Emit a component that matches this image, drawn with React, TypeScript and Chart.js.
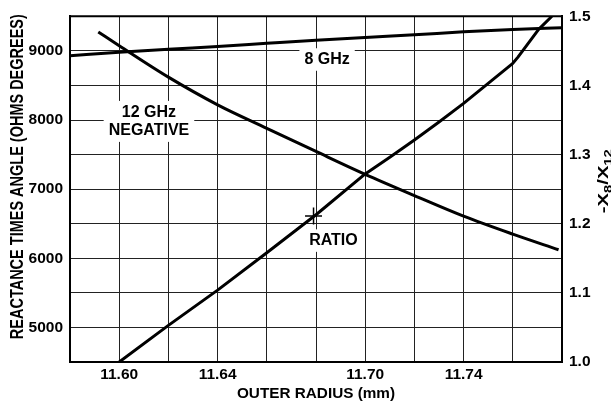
import { useEffect, useRef } from 'react';
import { Chart, registerables } from 'chart.js';

Chart.register(...registerables);

const FONT = "'Liberation Sans', Arial, Helvetica, sans-serif";

// X axis (outer radius, mm)
const radiusMin = 11.58;
const radiusMax = 11.78;
const radiusStep = 0.02;
const radiusLabeled = ['11.60', '11.64', '11.70', '11.74'];

// Left axis (reactance times angle)
const leftMin = 4500;
const leftMax = 9500;
const leftStep = 500;

// Right axis (ratio)
const rightMin = 1.0;
const rightMax = 1.5;
const rightStep = 0.05;

// 8 GHz curve
const ghz8Radius = [11.58, 11.6, 11.62, 11.64, 11.66, 11.68, 11.7, 11.72, 11.74, 11.76, 11.78];
const ghz8Values = [8930, 8980, 9025, 9062, 9109, 9155, 9195, 9232, 9275, 9308, 9335];

// 12 GHz negative curve
const ghz12Radius = [11.5915, 11.6, 11.62, 11.64, 11.66, 11.68, 11.7, 11.72, 11.74, 11.76, 11.7786];
const ghz12Values = [9273, 9075, 8620, 8220, 7880, 7545, 7215, 6908, 6610, 6350, 6124];

// Ratio curve (right axis)
const ratioRadius = [11.6, 11.62, 11.64, 11.66, 11.68, 11.7, 11.71, 11.72, 11.73, 11.74, 11.75, 11.76, 11.7621, 11.7705, 11.7759];
const ratioValues = [1.0, 1.053, 1.104, 1.158, 1.213, 1.272, 1.296, 1.321, 1.347, 1.374, 1.403, 1.432, 1.441, 1.481, 1.5];

// Cross marker on ratio curve
const markerRadius = [11.679];
const markerRatio = [1.211];

// In-plot labels
const labelLines = [['8 GHz'], ['12 GHz', 'NEGATIVE'], ['RATIO']];
const labelRadius = [11.6845, 11.6121, 11.6871];
const labelLevel = [8875, 7980, 6256];

const xTitle = 'OUTER RADIUS (mm)';
const leftTitle = 'REACTANCE TIMES ANGLE (OHMS DEGREES)';

const overlay = {
  id: 'overlay',
  beforeDatasetsDraw(chart: any) {
    const { ctx, chartArea: a, scales } = chart;
    ctx.save();
    ctx.strokeStyle = '#000';
    ctx.lineWidth = 2;
    ctx.beginPath();
    ctx.moveTo(a.left, a.top);
    ctx.lineTo(a.right, a.top);
    ctx.stroke();

    ctx.font = `bold 16px ${FONT}`;
    ctx.textAlign = 'center';
    ctx.textBaseline = 'middle';
    labelLines.forEach((lines, i) => {
      const cx = scales.x.getPixelForValue(labelRadius[i]);
      const cy = scales.y.getPixelForValue(labelLevel[i]);
      const w = Math.max(...lines.map((l) => ctx.measureText(l).width)) + 10;
      const lh = 18.5;
      const h = lines.length * lh + 4;
      ctx.fillStyle = '#fff';
      ctx.fillRect(cx - w / 2, cy - h / 2, w, h);
      ctx.fillStyle = '#000';
      lines.forEach((l, j) => ctx.fillText(l, cx, cy + (j - (lines.length - 1) / 2) * lh));
    });
    ctx.restore();
  },
  afterDraw(chart: any) {
    const { ctx, chartArea: a } = chart;
    const midY = (a.top + a.bottom) / 2;
    ctx.save();
    ctx.fillStyle = '#000';

    // X title
    ctx.font = `bold 15.3px ${FONT}`;
    ctx.textAlign = 'center';
    ctx.textBaseline = 'middle';
    ctx.fillText(xTitle, (a.left + a.right) / 2, a.bottom + 31.5);

    // Left title (tall, condensed)
    ctx.save();
    ctx.translate(a.left - 53.3, midY - 12.5);
    ctx.rotate(-Math.PI / 2);
    const lfs = 18.5;
    ctx.font = `bold ${lfs}px ${FONT}`;
    const lw = ctx.measureText(leftTitle).width;
    ctx.scale(325 / lw, 1);
    ctx.textAlign = 'center';
    ctx.textBaseline = 'alphabetic';
    ctx.fillText(leftTitle, 0, 0.358 * lfs);
    ctx.restore();

    // Right title with subscripts
    ctx.save();
    ctx.translate(a.right + 41, midY - 8);
    ctx.rotate(-Math.PI / 2);
    const mfs = 15;
    const sfs = 11;
    const parts: [string, number, number][] = [
      ['-X', mfs, 0],
      ['8', sfs, 3.5],
      ['/X', mfs, 0],
      ['12', sfs, 3.5],
    ];
    let total = 0;
    const widths = parts.map(([t, fs]) => {
      ctx.font = `bold ${fs}px ${FONT}`;
      const w = ctx.measureText(t).width;
      total += w;
      return w;
    });
    ctx.scale(64 / total, 1);
    ctx.textAlign = 'left';
    ctx.textBaseline = 'alphabetic';
    let px = -total / 2;
    parts.forEach(([t, fs, dy], i) => {
      ctx.font = `bold ${fs}px ${FONT}`;
      ctx.fillText(t, px, 0.358 * mfs + dy);
      px += widths[i];
    });
    ctx.restore();

    ctx.restore();
  },
};

const tickFont = { family: FONT, size: 15.5, weight: 'bold' as const };

export default function App() {
  const ref = useRef<HTMLCanvasElement | null>(null);

  useEffect(() => {
    if (!ref.current) return;
    const toPts = (xs: number[], ys: number[]) => xs.map((x, i) => ({ x, y: ys[i] }));
    const chart = new Chart(ref.current, {
      type: 'line',
      data: {
        datasets: [
          {
            label: '8 GHz',
            data: toPts(ghz8Radius, ghz8Values),
            yAxisID: 'y',
            borderColor: '#000',
            borderWidth: 3,
            pointRadius: 0,
            cubicInterpolationMode: 'monotone',
          },
          {
            label: '12 GHz NEGATIVE',
            data: toPts(ghz12Radius, ghz12Values),
            yAxisID: 'y',
            borderColor: '#000',
            borderWidth: 3,
            pointRadius: 0,
            cubicInterpolationMode: 'monotone',
          },
          {
            label: 'RATIO',
            data: toPts(ratioRadius, ratioValues),
            yAxisID: 'y1',
            borderColor: '#000',
            borderWidth: 3,
            pointRadius: 0,
            tension: 0,
            borderJoinStyle: 'round',
          },
          {
            label: 'marker',
            data: toPts(markerRadius, markerRatio),
            yAxisID: 'y1',
            showLine: false,
            borderColor: '#000',
            borderWidth: 1.5,
            pointStyle: 'cross',
            pointRadius: 8.5,
          },
        ],
      },
      options: {
        animation: false,
        responsive: false,
        layout: { padding: { top: 14, left: 0, right: 0, bottom: 0 } },
        plugins: {
          legend: { display: false },
          tooltip: { enabled: false },
          title: { display: false },
        },
        scales: {
          x: {
            type: 'linear',
            min: radiusMin,
            max: radiusMax,
            afterFit: (s: any) => {
              s.height = 45;
            },
            ticks: {
              stepSize: radiusStep,
              autoSkip: false,
              maxRotation: 0,
              padding: 3,
              color: '#000',
              font: tickFont,
              callback: (v: any) => {
                const s = Number(v).toFixed(2);
                return radiusLabeled.includes(s) ? s : '';
              },
            },
            grid: { color: '#222', lineWidth: 1, drawTicks: false },
            border: { color: '#000', width: 2 },
          },
          y: {
            position: 'left',
            min: leftMin,
            max: leftMax,
            afterFit: (s: any) => {
              s.width = 70;
            },
            ticks: {
              stepSize: leftStep,
              autoSkip: false,
              padding: 7,
              color: '#000',
              font: tickFont,
              callback: (v: any) => (Math.round(Number(v)) % 1000 === 0 ? String(Math.round(Number(v))) : ''),
            },
            grid: { color: '#222', lineWidth: 1, drawTicks: false },
            border: { color: '#000', width: 2 },
          },
          y1: {
            position: 'right',
            min: rightMin,
            max: rightMax,
            afterFit: (s: any) => {
              s.width = 49;
            },
            ticks: {
              stepSize: rightStep,
              autoSkip: false,
              padding: 7,
              color: '#000',
              font: tickFont,
              callback: (v: any) => {
                const n = Number(v) * 10;
                return Math.abs(n - Math.round(n)) < 1e-6 ? (Math.round(n) / 10).toFixed(1) : '';
              },
            },
            grid: { drawOnChartArea: false, drawTicks: false },
            border: { color: '#000', width: 2 },
          },
        },
      },
      plugins: [overlay],
    } as any);
    return () => chart.destroy();
  }, []);

  return (
    <div style={{ position: 'absolute', left: 0, top: 0, width: 611, height: 407, background: '#fff' }}>
      <canvas ref={ref} width={611} height={407} style={{ display: 'block' }} />
    </div>
  );
}
